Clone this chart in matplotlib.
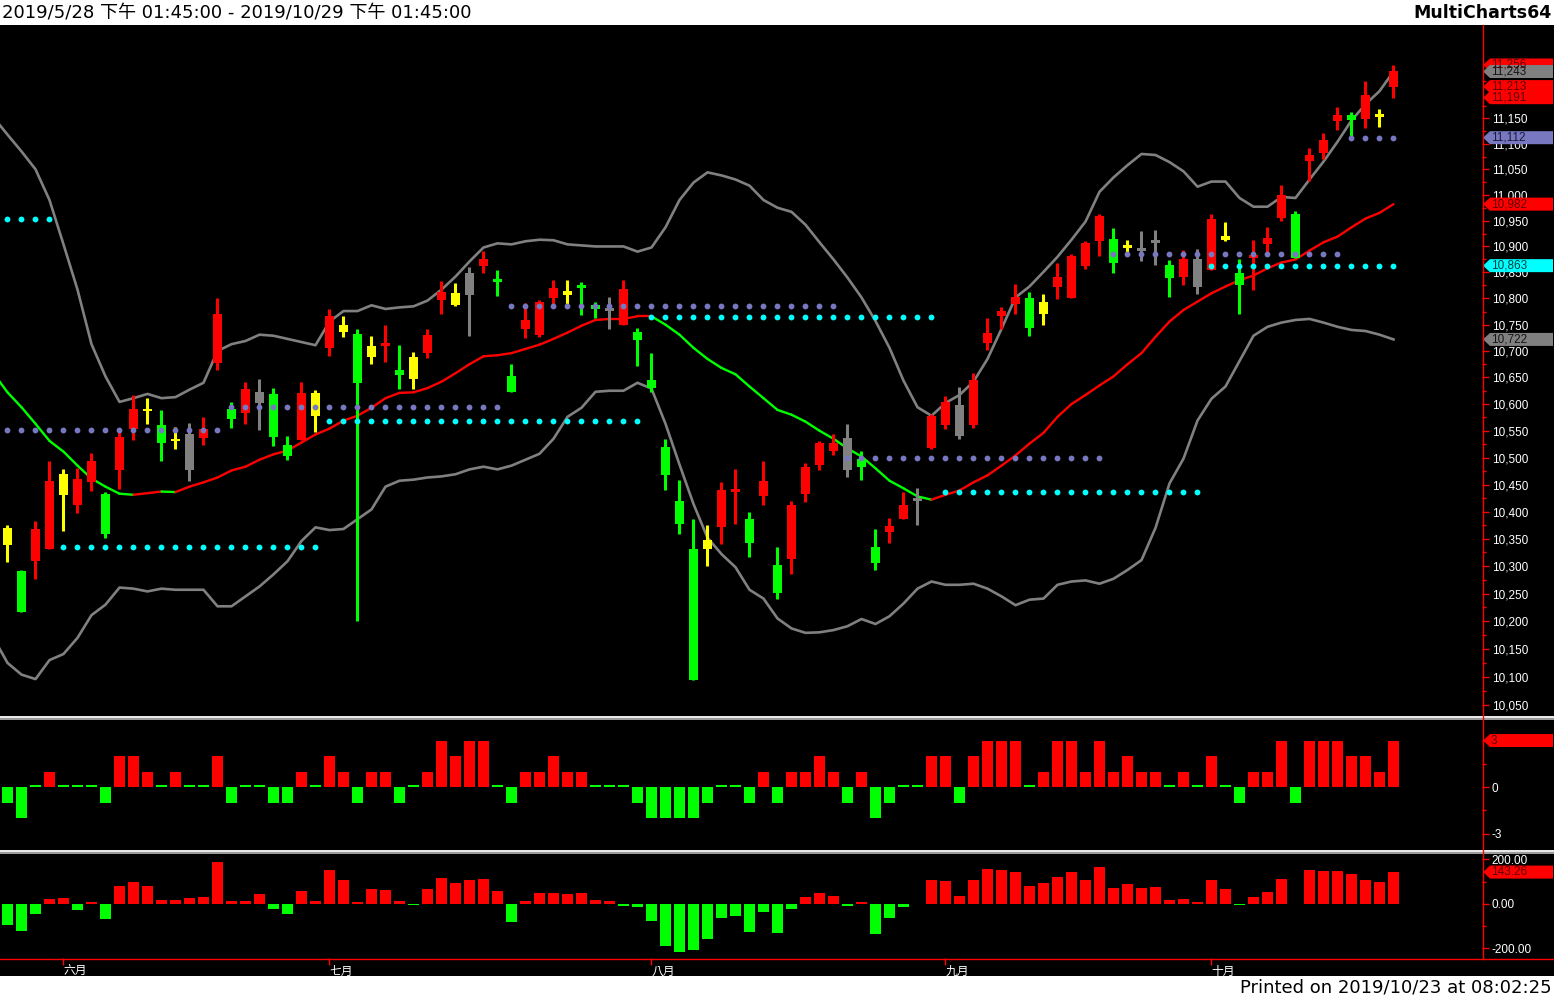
import numpy as np
import matplotlib.pyplot as plt
from matplotlib.patches import Rectangle, Polygon
from matplotlib.lines import Line2D
from matplotlib.transforms import IdentityTransform
from matplotlib.ticker import FixedLocator, NullFormatter, FuncFormatter

# -----------------------------
# Candles (2019/5/28 .. 2019/10/23)
# -----------------------------
opens = [10339, 10292, 10310, 10332, 10430, 10413, 10454, 10433, 10476, 10554,
         10587, 10561, 10530, 10544, 10537, 10678, 10591, 10584, 10602, 10619,
         10524, 10533, 10578, 10706, 10737, 10733, 10689, 10710, 10665, 10648,
         10696, 10798, 10787, 10806, 10862, 10837, 10652, 10742, 10731, 10800,
         10806, 10825, 10787, 10781, 10750, 10737, 10645, 10519, 10420, 10331,
         10331, 10372, 10437, 10386, 10428, 10302, 10313, 10433, 10486, 10513,
         10537, 10498, 10335, 10363, 10387, 10424, 10518, 10560, 10598, 10561,
         10716, 10766, 10789, 10800, 10770, 10822, 10800, 10862, 10910, 10915,
         10897, 10892, 10907, 10865, 10841, 10822, 10854, 10913, 10849, 10879,
         10904, 10956, 10962, 11067, 11081, 11145, 11157, 11149, 11154, 11213]
highs = [10375, 10293, 10382, 10493, 10478, 10481, 10509, 10437, 10548, 10617,
         10611, 10589, 10557, 10565, 10576, 10800, 10604, 10642, 10648, 10631,
         10541, 10642, 10627, 10780, 10767, 10742, 10729, 10750, 10711, 10698,
         10742, 10833, 10829, 10860, 10892, 10854, 10675, 10791, 10798, 10835,
         10835, 10831, 10794, 10802, 10835, 10744, 10696, 10535, 10459, 10387,
         10375, 10454, 10478, 10400, 10493, 10335, 10420, 10489, 10530, 10544,
         10563, 10513, 10368, 10389, 10437, 10443, 10582, 10616, 10632, 10658,
         10763, 10783, 10827, 10813, 10808, 10869, 10885, 10910, 10962, 10935,
         10912, 10929, 10931, 10873, 10894, 10896, 10962, 10948, 10876, 10912,
         10937, 11020, 10969, 11092, 11122, 11172, 11162, 11224, 11168, 11256]
lows = [10307, 10216, 10276, 10331, 10365, 10398, 10438, 10351, 10441, 10532,
        10562, 10494, 10515, 10457, 10524, 10665, 10556, 10562, 10552, 10521,
        10496, 10533, 10548, 10691, 10727, 10200, 10675, 10679, 10629, 10629,
        10687, 10770, 10785, 10729, 10849, 10804, 10622, 10725, 10727, 10789,
        10789, 10768, 10763, 10742, 10750, 10671, 10622, 10439, 10358, 10095,
        10300, 10340, 10378, 10317, 10413, 10240, 10286, 10417, 10476, 10504,
        10464, 10458, 10293, 10343, 10386, 10376, 10515, 10554, 10535, 10555,
        10701, 10742, 10770, 10729, 10750, 10799, 10800, 10856, 10881, 10849,
        10890, 10871, 10865, 10802, 10826, 10808, 10854, 10910, 10770, 10817,
        10889, 10949, 10877, 11028, 11071, 11127, 11115, 11131, 11133, 11191]
closes = [10370, 10217, 10368, 10456, 10470, 10461, 10494, 10359, 10539, 10591,
          10591, 10528, 10535, 10476, 10554, 10770, 10572, 10629, 10623, 10539,
          10502, 10621, 10621, 10767, 10750, 10640, 10710, 10715, 10654, 10689,
          10731, 10813, 10810, 10849, 10876, 10831, 10623, 10758, 10794, 10821,
          10815, 10821, 10780, 10778, 10819, 10720, 10631, 10467, 10377, 10095,
          10347, 10439, 10441, 10342, 10457, 10252, 10413, 10483, 10528, 10528,
          10476, 10483, 10306, 10373, 10413, 10420, 10577, 10603, 10540, 10645,
          10735, 10777, 10802, 10743, 10794, 10842, 10881, 10906, 10958, 10868,
          10902, 10896, 10912, 10839, 10875, 10875, 10954, 10920, 10826, 10882,
          10917, 11000, 10877, 11078, 11107, 11157, 11147, 11196, 11158, 11245]
# r = up, g = down, y = yellow bar, k = gray bar
kinds = ("ygrryrrgrr" "ygykrrgrkg" "gryrygyrgy" "rrykrggrrr" "yggkrggggg"
         "yrrgrgrrrr" "kggrrkrrkr" "rrrgyrrrrg" "ykkgrkrygr" "rrgrrrgryr")

# Bollinger bands, first value is the bar just left of the visible range
upper = [11152,
         11118, 11085, 11050, 10990, 10904, 10817, 10713, 10652, 10604, 10611,
         10619, 10611, 10613, 10627, 10640, 10700, 10713, 10719, 10731, 10729,
         10723, 10717, 10711, 10756, 10776, 10776, 10787, 10780, 10783, 10785,
         10796, 10817, 10842, 10871, 10898, 10906, 10904, 10910, 10913, 10912,
         10904, 10902, 10900, 10900, 10900, 10890, 10898, 10937, 10990, 11024,
         11044, 11038, 11030, 11018, 10990, 10975, 10967, 10942, 10908, 10875,
         10840, 10802, 10757, 10706, 10644, 10594, 10578, 10602, 10617, 10642,
         10685, 10742, 10802, 10823, 10851, 10880, 10913, 10948, 11006, 11034,
         11058, 11080, 11078, 11064, 11046, 11016, 11026, 11026, 10994, 10977,
         10977, 10996, 10994, 11030, 11065, 11104, 11146, 11178, 11204, 11243]
middle = [10658,
          10622, 10594, 10563, 10531, 10511, 10485, 10461, 10446, 10433, 10431,
          10434, 10437, 10436, 10446, 10454, 10463, 10476, 10483, 10496, 10506,
          10513, 10528, 10543, 10554, 10569, 10578, 10593, 10611, 10621, 10622,
          10630, 10642, 10658, 10675, 10690, 10692, 10696, 10704, 10712, 10723,
          10735, 10748, 10759, 10761, 10761, 10766, 10766, 10750, 10731, 10706,
          10685, 10668, 10656, 10633, 10611, 10589, 10580, 10567, 10550, 10535,
          10517, 10502, 10480, 10457, 10443, 10428, 10422, 10431, 10439, 10454,
          10467, 10485, 10504, 10526, 10546, 10576, 10600, 10617, 10635, 10652,
          10675, 10696, 10727, 10756, 10778, 10794, 10810, 10823, 10835, 10844,
          10858, 10869, 10875, 10892, 10908, 10919, 10937, 10954, 10965, 10982]
lower = [10170,
         10125, 10104, 10096, 10130, 10141, 10170, 10211, 10230, 10261, 10259,
         10254, 10259, 10257, 10257, 10257, 10227, 10227, 10245, 10263, 10285,
         10309, 10346, 10371, 10366, 10368, 10386, 10404, 10446, 10457, 10459,
         10463, 10465, 10469, 10478, 10483, 10478, 10485, 10496, 10507, 10535,
         10576, 10593, 10623, 10625, 10625, 10640, 10629, 10563, 10487, 10414,
         10352, 10322, 10298, 10257, 10241, 10205, 10187, 10179, 10180, 10184,
         10191, 10204, 10195, 10209, 10232, 10259, 10272, 10266, 10266, 10268,
         10259, 10245, 10229, 10239, 10241, 10266, 10272, 10274, 10268, 10277,
         10293, 10311, 10370, 10452, 10498, 10569, 10610, 10633, 10681, 10729,
         10746, 10754, 10759, 10761, 10754, 10746, 10740, 10738, 10731, 10722]

# dotted level segments
cyan_levels = [10954, 10335, 10568, 10764, 10436, 10863]
cyan_start = [0, 4, 23, 46, 67, 86]
cyan_end = [3, 22, 45, 66, 85, 99]
slate_levels = [10552, 10594, 10785, 10499, 10886, 11112]
slate_start = [0, 16, 36, 60, 79, 96]
slate_end = [15, 35, 59, 78, 95, 99]

# indicators
ind1 = [-1, -2, 0, 1, 0, 0, 0, -1, 2, 2,
        1, 0, 1, 0, 0, 2, -1, 0, 0, -1,
        -1, 1, 0, 2, 1, -1, 1, 1, -1, 0,
        1, 3, 2, 3, 3, 0, -1, 1, 1, 2,
        1, 1, 0, 0, 0, -1, -2, -2, -2, -2,
        -1, 0, 0, -1, 1, -1, 1, 1, 2, 1,
        -1, 1, -2, -1, 0, 0, 2, 2, -1, 2,
        3, 3, 3, 0, 1, 3, 3, 1, 3, 1,
        2, 1, 1, 0, 1, 0, 2, 0, -1, 1,
        1, 3, -1, 3, 3, 3, 2, 2, 1, 3]
ind2 = [-95, -122, -45, 23, 27, -27, 9, -68, 81, 99,
        81, 18, 18, 27, 32, 190, 14, 14, 45, -23,
        -45, 59, 14, 153, 108, 9, 68, 63, 14, -5,
        68, 117, 95, 108, 113, 59, -81, 14, 50, 50,
        45, 50, 18, 14, -9, -14, -77, -190, -217, -208,
        -158, -63, -54, -126, -36, -131, -23, 32, 50, 36,
        -9, 9, -135, -63, -14, 0, 108, 104, 36, 108,
        158, 153, 144, 81, 95, 122, 144, 108, 167, 72,
        90, 72, 77, 18, 23, 9, 108, 68, -5, 32,
        54, 113, 0, 153, 149, 149, 135, 108, 99, 143.26]

month_idx = [4, 23, 46, 67, 86]
month_names = ["六月", "七月", "八月", "九月", "十月"]

tag_values = [11256, 11243, 11213, 11191, 11112, 10982, 10863, 10722]
tag_kinds = ['r', 'k', 'r', 'r', 's', 'r', 'c', 'k']

# -----------------------------
# Styling
# -----------------------------
W, H, DPI = 1554, 999, 100
RED, GREEN, YELLOW, GRAY = '#ff0000', '#00ff00', '#ffff00', '#808080'
CYAN, SLATE = '#00ffff', '#7878c0'
kind_color = {'r': RED, 'g': GREEN, 'y': YELLOW, 'k': GRAY, 'c': CYAN, 's': SLATE}
tag_text = {'r': '#600000', 'k': '#151515', 's': '#1a1a40', 'c': '#004040'}
NUMFONT = 'Liberation Sans'

fig = plt.figure(figsize=(W / DPI, H / DPI), dpi=DPI, facecolor='black')


def px_axes(x0, y0, x1, y1):
    a = fig.add_axes([x0 / W, 1 - y1 / H, (x1 - x0) / W, (y1 - y0) / H])
    a.set_facecolor('black')
    for s in a.spines.values():
        s.set_visible(False)
    return a


def right_ticks(a, majors, minors, fmt):
    a.yaxis.tick_right()
    a.yaxis.set_major_locator(FixedLocator(majors))
    a.yaxis.set_minor_locator(FixedLocator(minors))
    a.yaxis.set_major_formatter(FuncFormatter(fmt))
    a.yaxis.set_minor_formatter(NullFormatter())
    a.tick_params(axis='y', which='both', colors=RED, labelcolor='white',
                  labelsize=8.5, width=1, pad=2, labelfontfamily=NUMFONT)
    a.tick_params(axis='y', which='major', length=5)
    a.tick_params(axis='y', which='minor', length=3)


n = len(closes)
x = np.arange(n)
xb = np.arange(-1, n)
XLIM = (-7.5 / 14, (1482 - 7.5) / 14)

# -----------------------------
# Price pane
# -----------------------------
ax = px_axes(0, 25, 1482, 715)
ax.set_yscale('log')
ax.set_ylim(10032, 11336)
ax.set_xlim(*XLIM)
ax.set_xticks([])

ax.plot(xb, upper, color=GRAY, lw=1.9, zorder=2)
ax.plot(xb, lower, color=GRAY, lw=1.9, zorder=2)
for i in range(len(middle) - 1):
    c = RED if middle[i + 1] >= middle[i] else GREEN
    ax.plot([xb[i], xb[i + 1]], [middle[i], middle[i + 1]], color=c, lw=1.7,
            solid_capstyle='round', zorder=2.5)

for i in range(n):
    col = kind_color[kinds[i]]
    ax.vlines(i, lows[i], highs[i], color=col, lw=2.2, zorder=3)
    lo, hi = min(opens[i], closes[i]), max(opens[i], closes[i])
    if hi - lo < 5:
        mid = (hi + lo) / 2
        lo, hi = mid - 2.5, mid + 2.5
    ax.add_patch(Rectangle((i - 0.31, lo), 0.62, hi - lo, fc=col, ec='none', zorder=4))

for levels, starts, ends, col in [(cyan_levels, cyan_start, cyan_end, CYAN),
                                  (slate_levels, slate_start, slate_end, SLATE)]:
    for v, s, e in zip(levels, starts, ends):
        xs = np.arange(s, e + 1)
        ax.plot(xs, np.full(len(xs), v), 'o', ms=4.2, color=col, mec='none', zorder=5)

# 11,200 and 11,250 sit fully under the price tags
maj = np.arange(10050, 11151, 50)
right_ticks(ax, maj, np.arange(10075, 11251, 50), lambda v, p: f'{v:,.0f}')

# -----------------------------
# Indicator panes
# -----------------------------
ax1 = px_axes(0, 719, 1482, 849)
ax1.set_xlim(*XLIM)
ax1.set_ylim(-4.0, 4.39)
ax1.set_xticks([])
h1 = [v if v != 0 else 0.12 for v in ind1]
ax1.bar(x, h1, width=0.78, color=[RED if v > 0 else GREEN for v in ind1])
right_ticks(ax1, [0, -3], [1.5, -1.5, 3], lambda v, p: f'{v:.0f}')

ax2 = px_axes(0, 853, 1482, 958)
ax2.set_xlim(*XLIM)
ax2.set_ylim(-243, 229)
ax2.bar(x, ind2, width=0.78, color=[RED if v > 0 else GREEN for v in ind2])
right_ticks(ax2, [200, 0, -200], [100, -100], lambda v, p: f'{v:.2f}')
ax2.set_xticks(month_idx)
ax2.set_xticklabels(month_names, ha='left', fontfamily='Noto Sans CJK TC')
ax2.tick_params(axis='x', direction='out', length=5, width=1, colors=RED,
                labelcolor='white', labelsize=8.5, pad=0)

# -----------------------------
# Frame, separators, header/footer
# -----------------------------
fig.add_artist(Rectangle((0, 1 - 25 / H), 1, 25 / H, transform=fig.transFigure,
                         fc='white', ec='none'))
fig.add_artist(Rectangle((0, 0), 1, 23 / H, transform=fig.transFigure,
                         fc='white', ec='none'))
for ysep in (715.5, 849.5):
    fig.add_artist(Rectangle((0, 1 - (ysep + 4) / H), 1, 4 / H, transform=fig.transFigure,
                             fc='#9a9a9a', ec='none'))
    fig.add_artist(Line2D([0, 1], [1 - (ysep + 1.8) / H] * 2, transform=fig.transFigure,
                          color='white', lw=1.1))
fig.add_artist(Line2D([0, 1], [1 - 958.5 / H] * 2, transform=fig.transFigure, color=RED, lw=1))
fig.add_artist(Line2D([1482.5 / W] * 2, [1 - 958.5 / H, 1 - 25 / H], transform=fig.transFigure,
                      color=RED, lw=1))

fig.text(2 / W, 1 - 12.5 / H, "2019/5/28 下午 01:45:00 - 2019/10/29 下午 01:45:00",
         fontsize=13, color='black', va='center', ha='left',
         family=['DejaVu Sans', 'Noto Sans CJK TC'])
fig.text(1552 / W, 1 - 12.5 / H, "MultiCharts64", fontsize=12.5, fontweight='bold',
         color='black', va='center', ha='right', family='DejaVu Sans')
fig.text(1552 / W, 1 - 988 / H, "Printed on 2019/10/23 at 08:02:25", fontsize=13,
         color='black', va='center', ha='right', family='DejaVu Sans')


# price tags on the right scale
def tag(axis, v, txt, kind, h=13):
    y = axis.transData.transform((0, v))[1]
    x0 = 1483
    pts = [(x0, y), (x0 + 7, y + h / 2), (1553, y + h / 2), (1553, y - h / 2), (x0 + 7, y - h / 2)]
    fig.add_artist(Polygon(pts, closed=True, transform=IdentityTransform(),
                           fc=kind_color[kind], ec='none'))
    fig.text(x0 + 8, y, txt, transform=IdentityTransform(), color=tag_text[kind],
             fontsize=8.5, va='center', ha='left', family=NUMFONT)


for v, k in zip(tag_values, tag_kinds):
    tag(ax, v, f'{v:,}', k)
tag(ax1, ind1[-1], f'{ind1[-1]}', 'r')
tag(ax2, ind2[-1], f'{ind2[-1]:.2f}', 'r')

fig.savefig('out.png', dpi=DPI, facecolor='black')
